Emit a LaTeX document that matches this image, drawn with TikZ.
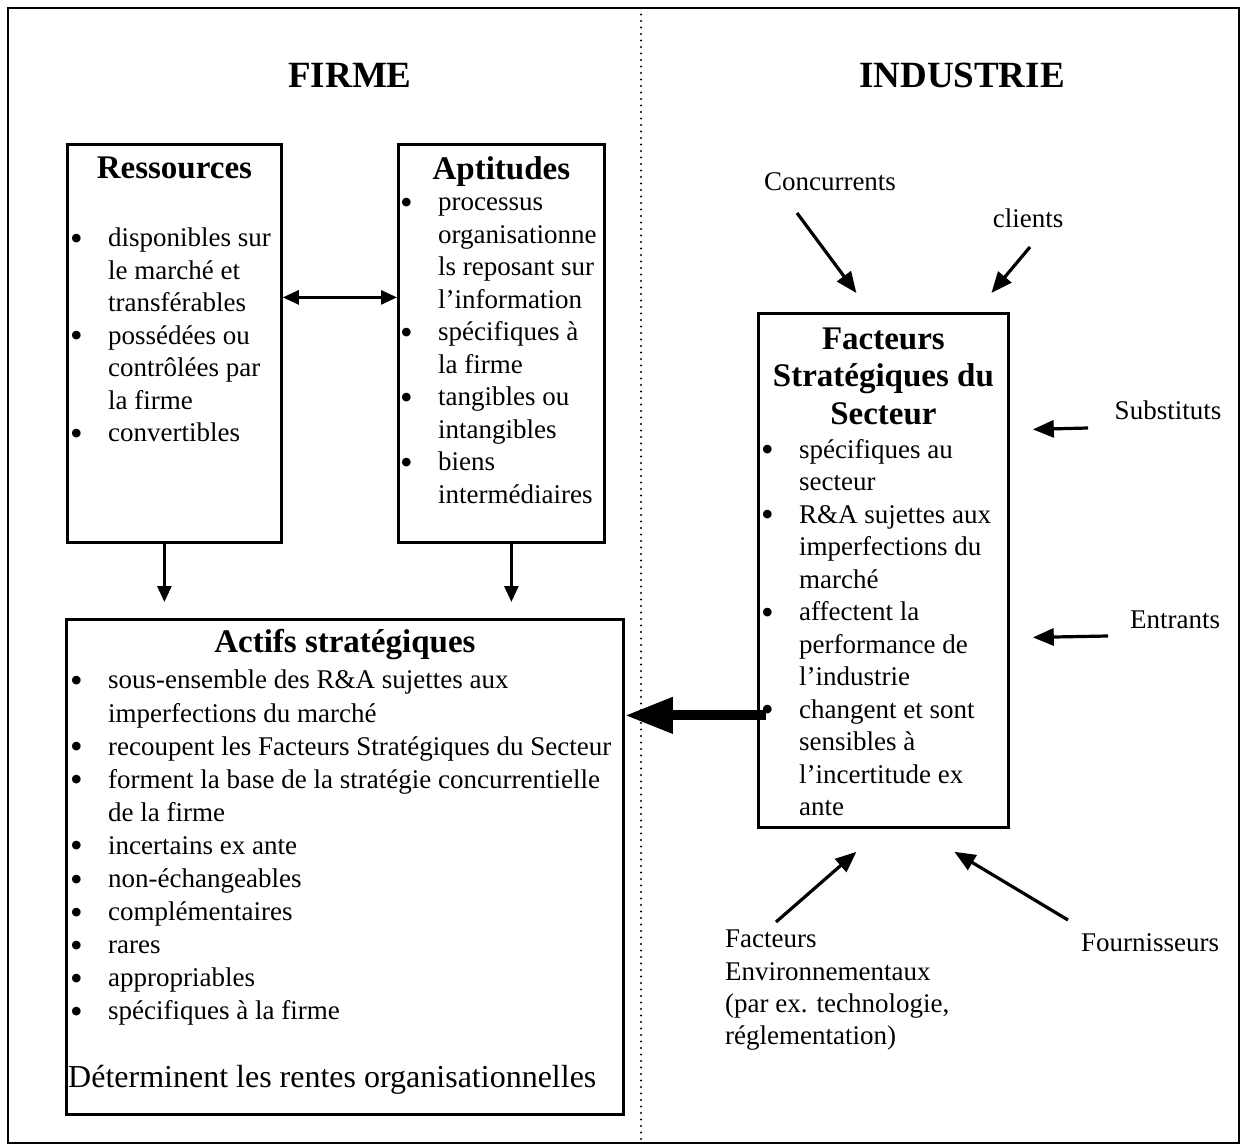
\documentclass[tikz,border=0pt]{standalone}
\usepackage{fontspec}
\setmainfont{Liberation Serif}
\usetikzlibrary{arrows.meta, positioning, calc}

\newcommand{\bul}{\makebox[38pt][l]{\raisebox{-3.5pt}[0pt][0pt]{\fontsize{36}{0}\selectfont\textbullet}}}
\newcommand{\ind}{\hspace*{38pt}}

\begin{document}
\begin{tikzpicture}[
        x=1pt, y=-1pt,
        box/.style={rectangle, draw=black, line width=2.8pt, anchor=north west, inner sep=0pt},
        sidetitle/.style={font=\fontsize{37}{44}\selectfont\bfseries},
        boxtitle/.style={font=\fontsize{33}{37.5}\selectfont\bfseries, align=center, inner sep=0pt},
        items/.style={font=\fontsize{27}{32.5}\selectfont, align=left, anchor=north west, inner sep=0pt},
        extlab/.style={font=\fontsize{27}{32.3}\selectfont, align=left, inner sep=0pt},
        flow/.style={line width=2.8pt, -{Triangle[length=16pt, width=14pt]}},
        force/.style={line width=3.2pt, -{Triangle[length=21pt, width=17pt]}},
        bigflow/.style={line width=10pt, -{Triangle[length=48pt, width=34pt]}}
    ]
        \useasboundingbox (0,0) rectangle (1245,1147);

        % CADRE
        \draw[line width=2.2pt] (8,8) rectangle (1239,1143);
        \draw[line width=2.2pt, line cap=round, dash pattern=on 0pt off 6.5pt] (641,8) -- (641,1143);

        \node[sidetitle] (firme) at (350,75) {FIRME};
        \node[sidetitle] (industrie) at (962,75) {INDUSTRIE};

        % FIRME
        \node[box, minimum width=214pt, minimum height=398pt] (res) at (66,143) {};
        \node[boxtitle] (restitle) at ($(res.north)+(0,25)$) {Ressources};
        \node[items] (resitems) at ($(res.north west)+(4,85)$) {\bul disponibles sur\\
            \ind le marché et\\
            \ind transférables\\
            \bul possédées ou\\
            \ind contrôlées par\\
            \ind la firme\\
            \bul convertibles};

        \node[box, minimum width=206pt, minimum height=398pt] (apt) at (397,143) {};
        \node[boxtitle] (apttitle) at ($(apt.north)+(0,29)$) {Aptitudes};
        \node[items] (aptitems) at ($(apt.north west)+(3,55)$) {\bul processus\\
            \ind organisationne\\
            \ind ls reposant sur\\
            \ind l’information\\
            \bul spécifiques à\\
            \ind la firme\\
            \bul tangibles ou\\
            \ind intangibles\\
            \bul biens\\
            \ind intermédiaires};

        \node[box, minimum width=557pt, minimum height=495pt] (act) at (65,618) {};
        \node[boxtitle] (acttitle) at ($(act.north)+(0,27)$) {Actifs stratégiques};
        \node[items, font=\fontsize{27}{33.1}\selectfont] (actitems) at ($(act.north west)+(5,52)$) {\bul sous-ensemble des R\&A sujettes aux\\
            \ind imperfections du marché\\
            \bul recoupent les Facteurs Stratégiques du Secteur\\
            \bul forment la base de la stratégie concurrentielle\\
            \ind de la firme\\
            \bul incertains ex ante\\
            \bul non-échangeables\\
            \bul complémentaires\\
            \bul rares\\
            \bul appropriables\\
            \bul spécifiques à la firme};
        \node[anchor=west, inner sep=0pt, font=\fontsize{32}{38}\selectfont] (rentes) at ($(act.south west)+(3,-36)$) {Déterminent les rentes organisationnelles};

        % INDUSTRIE
        \node[box, minimum width=250pt, minimum height=514pt] (fac) at (757,312) {};
        \node[boxtitle] (factitle) at ($(fac.north)+(0,64)$) {Facteurs\\Stratégiques du\\Secteur};
        \node[items] (facitems) at ($(fac.north west)+(4,127)$) {\bul spécifiques au\\
            \ind secteur\\
            \bul R\&A sujettes aux\\
            \ind imperfections du\\
            \ind marché\\
            \bul affectent la\\
            \ind performance de\\
            \ind l’industrie\\
            \bul changent et sont\\
            \ind sensibles à\\
            \ind l’incertitude ex\\
            \ind ante};

        \node[extlab] (conc) at (830,182) {Concurrents};
        \node[extlab] (cli) at (1028,218) {clients};
        \node[extlab] (subst) at (1168,410) {Substituts};
        \node[extlab] (entr) at (1175,620) {Entrants};
        \node[extlab] (fourn) at (1150,943) {Fournisseurs};
        \node[extlab, anchor=north west] (env) at (725,930) {Facteurs\\Environnementaux\\(par ex. technologie,\\réglementation)};

        % FLECHES
        \draw[line width=2.8pt, {Triangle[length=16pt, width=14pt]}-{Triangle[length=16pt, width=14pt]}] ($(res.east)+(0,-46)$) coordinate (rc) -- (rc -| apt.west);

        \coordinate (resdown) at ([xshift=-10pt]res.south);
        \coordinate (aptdown) at ([xshift=10pt]apt.south);
        \draw[flow, shorten >=16pt] (resdown) -- (resdown |- act.north);
        \draw[flow, shorten >=16pt] (aptdown) -- (aptdown |- act.north);

        \draw[bigflow] ($(fac.west)+(9,145)$) coordinate (chg) -- (chg -| act.east);

        \draw[force] ($(conc)+(-33,31)$) -- ($(fac.north)+(-27,-19)$);
        \draw[force] ($(cli)+(2,29)$) -- ($(fac.north)+(108,-19)$);
        \draw[force] ($(subst)+(-80,18)$) -- ($(fac.east)+(23,-141)$);
        \draw[force] ($(entr)+(-67,16)$) -- ($(fac.east)+(23,67)$);
        \draw[force] ($(fourn)+(-82,-23)$) -- ($(fac.south)+(71,23)$);
        \draw[force] ($(env.north west)+(51,-8)$) -- ($(fac.south)+(-27,23)$);

    \end{tikzpicture}
\end{document}
